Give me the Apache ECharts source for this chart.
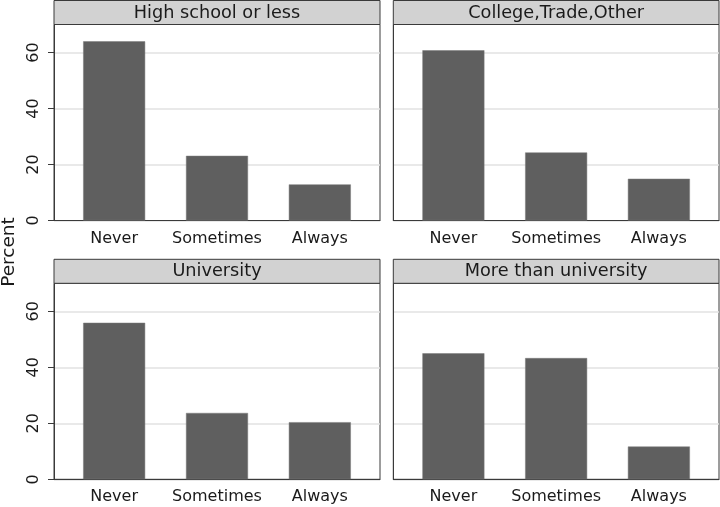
<!DOCTYPE html>
<html>
<head>
<meta charset="utf-8">
<script src="https://cdn.jsdelivr.net/npm/echarts@6/dist/echarts.min.js"></script>
<style>html,body{margin:0;padding:0;background:#fff;}#c{width:720px;height:507px;}</style>
</head>
<body>
<div id="c"></div>
<script>
// ---- data ----
var categories = ['Never', 'Sometimes', 'Always'];
var panelTitles = ['High school or less', 'College,Trade,Other', 'University', 'More than university'];
var highSchool = [64.0, 23.1, 12.9];
var college = [60.8, 24.3, 14.9];
var university = [55.9, 23.7, 20.4];
var moreThanUniv = [45.0, 43.3, 11.7];
var yTicks = [0, 20, 40, 60];
var yAxisTitle = 'Percent';

var panelValues = [highSchool, college, university, moreThanUniv];

// ---- layout ----
var FONT = 'DejaVu Sans';
var cols = [{ left: 54, width: 326 }, { left: 393.3, width: 325.7 }];
var rows = [{ top: 24.5, height: 196 }, { top: 283.3, height: 196 }];
var headerH = 24;
var xMin = -0.585, xMax = 2.585;

var grids = [], xAxes = [], yAxes = [], series = [], graphics = [];
for (var p = 0; p < 4; p++) {
  var c = cols[p % 2], r = rows[Math.floor(p / 2)];
  grids.push({
    left: c.left, top: r.top, width: c.width, height: r.height,
    show: true, borderColor: '#3a3a3a', borderWidth: 1, backgroundColor: '#fff'
  });
  xAxes.push({
    type: 'value', gridIndex: p, min: xMin, max: xMax,
    splitLine: { show: false },
    axisLine: { show: true, onZero: false, lineStyle: { color: '#3a3a3a' } },
    axisTick: { show: false },
    axisLabel: {
      customValues: [0, 1, 2],
      formatter: function (v) { return categories[Math.round(v)]; },
      fontFamily: FONT, fontSize: 16, color: '#1a1a1a', margin: 10
    }
  });
  var leftCol = (p % 2 === 0);
  yAxes.push({
    type: 'value', gridIndex: p, min: 0, max: 70, interval: 20,
    axisLine: { show: true, onZero: false, lineStyle: { color: '#3a3a3a' } },
    axisTick: { show: leftCol, length: 6, customValues: yTicks, lineStyle: { color: '#3a3a3a' } },
    axisLabel: {
      show: leftCol, customValues: yTicks, rotate: 90,
      fontFamily: FONT, fontSize: 16, color: '#1a1a1a', margin: 12
    },
    splitLine: { show: true, lineStyle: { color: '#e2e2e2', width: 1.5 } }
  });
  series.push({
    type: 'bar', xAxisIndex: p, yAxisIndex: p,
    data: panelValues[p].map(function (v, i) { return [i, v]; }),
    barWidth: 62,
    itemStyle: { color: '#5f5f5f', borderColor: '#7a7a7a', borderWidth: 0.5 },
    silent: true
  });
  graphics.push({
    type: 'rect', z: 100,
    shape: { x: c.left, y: r.top - headerH, width: c.width, height: headerH },
    style: { fill: '#d2d2d2', stroke: '#3a3a3a', lineWidth: 1 }
  });
  graphics.push({
    type: 'text', z: 101,
    x: c.left + c.width / 2, y: r.top - headerH / 2 + 0.5,
    style: {
      text: panelTitles[p], fontFamily: FONT, fontSize: 17.7, fill: '#1a1a1a',
      align: 'center', verticalAlign: 'middle'
    }
  });
}
graphics.push({
  type: 'text', z: 101, x: 9, y: 252, rotation: Math.PI / 2,
  style: {
    text: yAxisTitle, fontFamily: FONT, fontSize: 18.5, fill: '#1a1a1a',
    align: 'center', verticalAlign: 'middle'
  }
});

var chart = echarts.init(document.getElementById('c'), null, { renderer: 'canvas' });
chart.setOption({
  animation: false,
  backgroundColor: '#fff',
  grid: grids, xAxis: xAxes, yAxis: yAxes, series: series, graphic: graphics
});
</script>
</body>
</html>
